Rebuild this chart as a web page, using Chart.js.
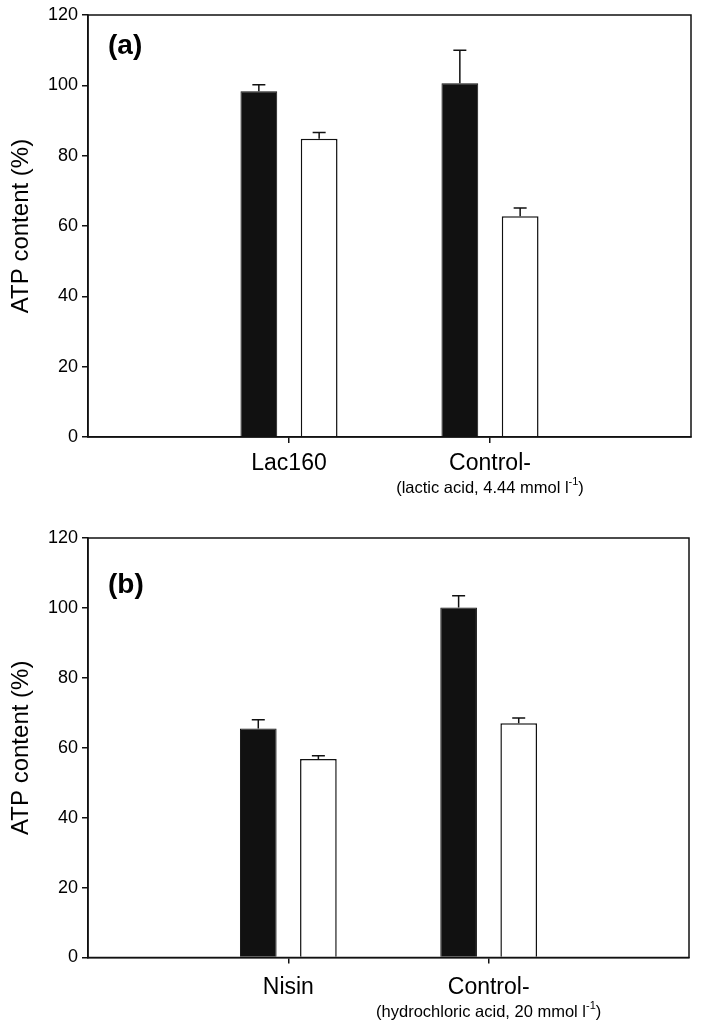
<!DOCTYPE html>
<html lang="en">
<head>
<meta charset="UTF-8">
<title>ATP content</title>
<script src="https://cdn.jsdelivr.net/npm/chart.js"></script>
<style>
  html, body { margin: 0; padding: 0; background: #fff; }
  .panel { position: absolute; left: 0; width: 701px; }
  #panelA { top: 0; height: 515px; }
  #panelB { top: 515px; height: 514px; }
</style>
</head>
<body>
<div class="panel" id="panelA"><canvas id="chartA"></canvas></div>
<div class="panel" id="panelB"><canvas id="chartB"></canvas></div>
<script>
// values (% ATP content), empty slots at both ends of the axis
const yTicks = [0, 20, 40, 60, 80, 100, 120];

const labelsA = ['', 'Lac160', 'Control-', ''];
const blackA = [null, 98.3, 100.6, null];
const blackErrA = [null, 1.9, 9.4, null];
const whiteA = [null, 84.8, 62.8, null];
const whiteErrA = [null, 1.8, 2.3, null];
const noteA = ['(lactic acid, 4.44 mmol l', '-1', ')'];

const labelsB = ['', 'Nisin', 'Control-', ''];
const blackB = [null, 65.5, 100.1, null];
const blackErrB = [null, 2.5, 3.4, null];
const whiteB = [null, 56.8, 67.0, null];
const whiteErrB = [null, 0.9, 1.5, null];
const noteB = ['(hydrochloric acid, 20 mmol l', '-1', ')'];

const FONT = "'Liberation Sans', Arial, Helvetica, sans-serif";

// draws the upper error bar with a cap on every bar
const errorBars = {
    id: 'errorBars',
    afterDatasetsDraw(chart) {
        const ctx = chart.ctx;
        const y = chart.scales.y;
        ctx.save();
        ctx.strokeStyle = '#111';
        ctx.lineWidth = 1.5;
        chart.data.datasets.forEach((ds, di) => {
            const meta = chart.getDatasetMeta(di);
            meta.data.forEach((bar, i) => {
                const v = ds.data[i];
                const e = ds.errors[i];
                if (v == null || e == null) return;
                const top = y.getPixelForValue(v + e);
                ctx.beginPath();
                ctx.moveTo(bar.x, bar.y);
                ctx.lineTo(bar.x, top);
                ctx.moveTo(bar.x - 6.5, top);
                ctx.lineTo(bar.x + 6.5, top);
                ctx.stroke();
            });
        });
        ctx.restore();
    }
};

// box round the plot area, panel letter and the small note under the control label
const panelDecor = {
    id: 'panelDecor',
    afterDraw(chart, args, opts) {
        const ctx = chart.ctx;
        const a = chart.chartArea;
        ctx.save();
        ctx.strokeStyle = '#111';
        ctx.lineWidth = 1.5;
        ctx.strokeRect(a.left, a.top, a.right - a.left, a.bottom - a.top);

        ctx.fillStyle = '#000';
        ctx.textBaseline = 'middle';
        ctx.textAlign = 'left';
        ctx.font = 'bold 28px ' + FONT;
        ctx.fillText(opts.letter, a.left + 20, a.top + opts.letterY);

        // note under the "Control-" tick, with a raised -1
        const x = chart.scales.x.getPixelForValue(2);
        const ny = a.bottom + opts.noteY;
        const big = '16.5px ' + FONT, small = '11px ' + FONT;
        ctx.font = big;
        const w1 = ctx.measureText(opts.note[0]).width;
        const w3 = ctx.measureText(opts.note[2]).width;
        ctx.font = small;
        const w2 = ctx.measureText(opts.note[1]).width;
        let sx = x - (w1 + w2 + w3) / 2;
        ctx.font = big;
        ctx.fillText(opts.note[0], sx, ny);
        sx += w1;
        ctx.font = small;
        ctx.fillText(opts.note[1], sx, ny - 6);
        sx += w2;
        ctx.font = big;
        ctx.fillText(opts.note[2], sx, ny);
        ctx.restore();
    }
};

function makePanel(id, labels, black, blackErr, white, whiteErr, cfg) {
    const ctx = document.getElementById(id).getContext('2d');
    return new Chart(ctx, {
        type: 'bar',
        data: {
            labels: labels,
            datasets: [{
                data: black,
                errors: blackErr,
                backgroundColor: '#111',
                borderColor: '#111',
                borderWidth: 1
            }, {
                data: white,
                errors: whiteErr,
                backgroundColor: '#fff',
                borderColor: '#111',
                borderWidth: 1.5
            }]
        },
        options: {
            responsive: true,
            maintainAspectRatio: false,
            animation: false,
            categoryPercentage: 0.6,
            barPercentage: 0.61,
            layout: { padding: { top: cfg.top, right: cfg.right, left: 0, bottom: 0 } },
            plugins: {
                legend: { display: false },
                tooltip: { enabled: false },
                panelDecor: { letter: cfg.letter, letterY: cfg.letterY, note: cfg.note, noteY: cfg.noteY }
            },
            scales: {
                x: {
                    type: 'category',
                    offset: false,
                    grid: {
                        offset: false,
                        drawOnChartArea: false,
                        tickLength: 6,
                        lineWidth: 1.5,
                        color: c => (c.index === 1 || c.index === 2) ? '#111' : 'rgba(0,0,0,0)'
                    },
                    border: { color: '#111', width: 1.5 },
                    ticks: {
                        color: '#000',
                        font: { family: FONT, size: 23 },
                        padding: cfg.labelPad,
                        autoSkip: false,
                        maxRotation: 0
                    },
                    afterFit: s => { s.height = cfg.xHeight; }
                },
                y: {
                    min: 0,
                    max: 120,
                    afterBuildTicks: s => { s.ticks = yTicks.map(v => ({ value: v })); },
                    grid: { drawOnChartArea: false, tickLength: 6, lineWidth: 1.5, color: '#111' },
                    border: { color: '#111', width: 1.5 },
                    ticks: { color: '#000', font: { family: FONT, size: 18 }, padding: 4 },
                    title: {
                        display: true,
                        text: 'ATP content (%)',
                        color: '#000',
                        font: { family: FONT, size: 24 },
                        padding: { top: 7, bottom: 0 }
                    },
                    afterFit: s => { s.width = 88; }
                }
            }
        },
        plugins: [errorBars, panelDecor]
    });
}

makePanel('chartA', labelsA, blackA, blackErrA, whiteA, whiteErrA,
    { top: 15, right: 10, xHeight: 78, labelPad: 7, letter: '(a)', letterY: 31, note: noteA, noteY: 51 });
makePanel('chartB', labelsB, blackB, blackErrB, whiteB, whiteErrB,
    { top: 23, right: 12, xHeight: 71.5, labelPad: 10, letter: '(b)', letterY: 47, note: noteB, noteY: 54.5 });
</script>
</body>
</html>
